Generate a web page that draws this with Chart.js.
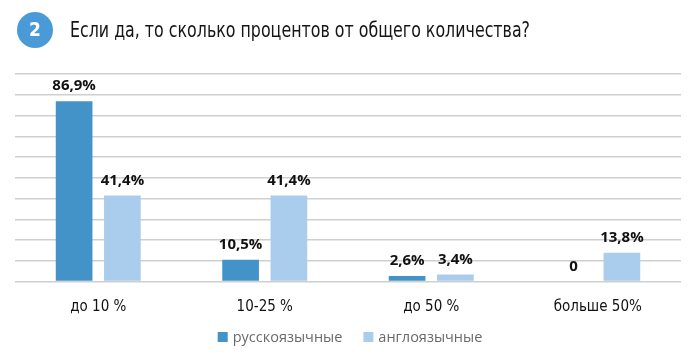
<!DOCTYPE html>
<html>
<head>
<meta charset="utf-8">
<script src="https://cdn.jsdelivr.net/npm/chart.js@4/dist/chart.umd.min.js"></script>
<style>
html,body{margin:0;padding:0;background:#fff;}
#wrap{width:700px;height:360px;position:relative;}
</style>
</head>
<body>
<div id="wrap"><canvas id="c" width="700" height="360"></canvas></div>
<script>
const titleNumber = "2";
const titleText = "Если да, то сколько процентов от общего количества?";
const categories = ["до 10 %", "10-25 %", "до 50 %", "больше 50%"];
const seriesNames = ["русскоязычные", "англоязычные"];
const russianValues = [86.9, 10.5, 2.6, 0];
const englishValues = [41.4, 41.4, 3.4, 13.8];
const colors = ["#4393c8", "#aacdee"];

const condensed = '"DejaVu Sans Condensed", "Liberation Sans Narrow", sans-serif';

function fmt(v){
  if (v === 0) return "0";
  return v.toFixed(1).replace(".", ",") + "%";
}

const extras = {
  id: "extras",
  afterDraw(chart){
    const ctx = chart.ctx;
    ctx.save();
    // title badge
    ctx.fillStyle = "#4a9ad8";
    ctx.beginPath();
    ctx.arc(35, 30, 18, 0, Math.PI*2);
    ctx.fill();
    ctx.fillStyle = "#fff";
    ctx.font = 'bold 19px ' + condensed;
    ctx.textAlign = "center";
    ctx.textBaseline = "middle";
    ctx.fillText(titleNumber, 35, 31);
    // title text squeezed to the reference width
    ctx.fillStyle = "#151515";
    ctx.font = '22px ' + condensed;
    ctx.textAlign = "left";
    const tw = ctx.measureText(titleText).width;
    const sx = 460 / tw;
    ctx.save();
    ctx.translate(70, 31);
    ctx.scale(sx, 1);
    ctx.fillText(titleText, 0, 0);
    ctx.restore();

    // data labels
    ctx.font = 'bold 15px "Open Sans", sans-serif';
    ctx.fillStyle = "#111";
    ctx.textAlign = "center";
    ctx.textBaseline = "middle";
    chart.data.datasets.forEach((ds, di) => {
      const meta = chart.getDatasetMeta(di);
      meta.data.forEach((bar, i) => {
        ctx.fillText(fmt(ds.data[i]), bar.x, bar.y - 15);
      });
    });

    // legend
    ctx.font = '14.5px "Open Sans", sans-serif';
    ctx.textBaseline = "middle";
    ctx.textAlign = "left";
    const sq = 10, gap = 5, between = 21;
    const widths = seriesNames.map(n => ctx.measureText(n).width);
    let total = 0;
    widths.forEach((w, i) => { total += sq + gap + w + (i < widths.length-1 ? between : 0); });
    let x = 350 - total/2;
    const y = 338;
    seriesNames.forEach((n, i) => {
      ctx.fillStyle = colors[i];
      ctx.fillRect(x, y - sq/2 - 1, sq, sq);
      x += sq + gap;
      ctx.fillStyle = "#6a6a6a";
      ctx.fillText(n, x, y);
      x += widths[i] + between;
    });
    ctx.restore();
  }
};

new Chart(document.getElementById("c"), {
  type: "bar",
  data: {
    labels: categories,
    datasets: [
      { label: seriesNames[0], data: russianValues, backgroundColor: colors[0], borderWidth: 0 },
      { label: seriesNames[1], data: englishValues, backgroundColor: colors[1], borderWidth: 0 }
    ]
  },
  options: {
    responsive: false,
    animation: false,
    events: [],
    layout: { padding: { left: 15, right: 19, top: 74, bottom: 0 } },
    categoryPercentage: 0.58,
    barPercentage: 0.76,
    plugins: { legend: { display: false }, tooltip: { enabled: false }, title: { display: false } },
    scales: {
      x: {
        grid: { display: false, drawTicks: false },
        border: { display: false },
        ticks: { color: "#111", font: { family: condensed, size: 15 }, padding: 17 },
        afterFit(scale){ scale.height = 78.5; }
      },
      y: {
        min: 0, max: 100,
        ticks: { display: false, stepSize: 10 },
        grid: { color: "#cfcfcf", lineWidth: 1.5, drawTicks: false },
        border: { display: false },
        afterFit(scale){ scale.width = 0; }
      }
    }
  },
  plugins: [extras]
});
</script>
</body>
</html>
